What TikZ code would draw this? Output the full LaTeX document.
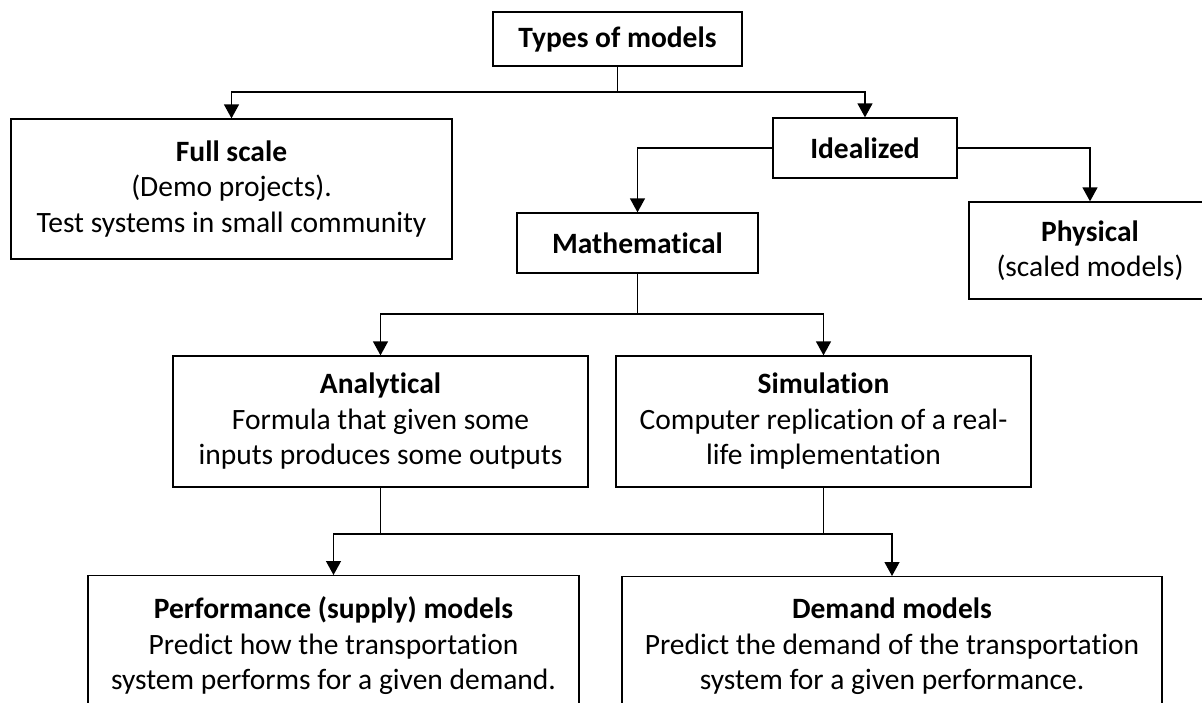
\documentclass[tikz,border=0pt]{standalone}
\usepackage{fontspec}
\setmainfont{Carlito}[Ligatures=NoCommon]
\usetikzlibrary{arrows.meta}

\tikzset{
  box/.style={draw=black, line width=1.3pt, align=center, inner sep=0pt,
    font=\fontsize{29.5}{35.5}\selectfont},
  link/.style={line width=1.3pt},
  arr/.style={link, -{Triangle[width=15pt,length=14pt]}}
}

\begin{document}
\begin{tikzpicture}[x=1pt, y=-1pt]
  \useasboundingbox (0,0) rectangle (1202,702);
  \clip (0,0) rectangle (1202,702);

  % boxes
  \node[box, minimum width=249pt, minimum height=54pt] (types) at (617.5,39)
    {\textbf{Types of models}};
  \node[box, minimum width=441pt, minimum height=140pt] (full) at (231.5,189)
    {\textbf{Full scale}\\(Demo projects).\\Test systems in small community};
  \node[box, minimum width=184pt, minimum height=60pt] (ideal) at (865,148)
    {\textbf{Idealized}};
  \node[box, minimum width=242pt, minimum height=97pt] (phys) at (1090,250.5)
    {\textbf{Physical}\\(scaled models)};
  \node[box, minimum width=241pt, minimum height=60pt] (math) at (637.5,243)
    {\textbf{Mathematical}};
  \node[box, minimum width=415pt, minimum height=131pt] (anal) at (380.5,421.5)
    {\textbf{Analytical}\\Formula that given some\\inputs produces some outputs};
  \node[box, minimum width=415pt, minimum height=131pt] (sim) at (823.5,421.5)
    {\textbf{Simulation}\\Computer replication of a real-\\life implementation};
  \node[box, anchor=north, minimum width=491pt, minimum height=140pt] (perf) at (333.5,575)
    {\textbf{Performance (supply) models}\\Predict how the transportation\\system performs for a given demand.};
  \node[box, anchor=north, minimum width=540pt, minimum height=140pt] (dem) at (892,576)
    {\textbf{Demand models}\\Predict the demand of the transportation\\system for a given performance.};

  % junction points
  \coordinate (j1) at (617.5,92);
  \coordinate (j2) at (637.5,314);
  \coordinate (j3) at (380.5,534);
  \coordinate (j4) at (823.5,534);

  % connectors
  \draw[link] (types.south) -- (j1);
  \draw[arr] (j1) -| (full.north);
  \draw[arr] (j1) -| (ideal.north);
  \draw[arr] (ideal.west) -| (math.north);
  \draw[arr] (ideal.east) -| (phys.north);
  \draw[link] (math.south) -- (j2);
  \draw[arr] (j2) -| (anal.north);
  \draw[arr] (j2) -| (sim.north);
  \draw[link] (anal.south) -- (j3) -- (j4) -- (sim.south);
  \draw[arr] (j3) -| (perf.north);
  \draw[arr] (j4) -| (dem.north);
\end{tikzpicture}
\end{document}
